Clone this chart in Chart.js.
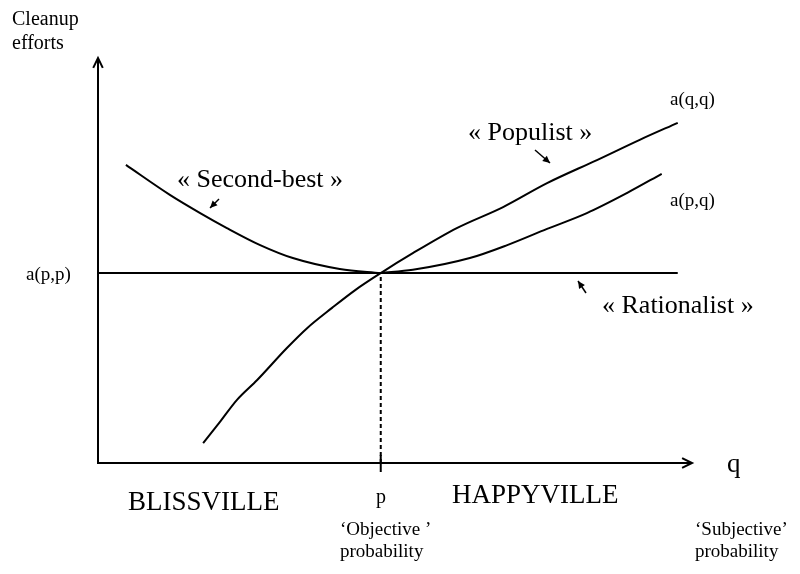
<!DOCTYPE html>
<html>
<head>
<meta charset="utf-8">
<script src="https://cdn.jsdelivr.net/npm/chart.js@4"></script>
<style>
html,body{margin:0;padding:0;background:#fff;}
#wrap{width:800px;height:574px;position:relative;}
</style>
</head>
<body>
<div id="wrap"><canvas id="c" width="800" height="574"></canvas></div>
<script>
// Schematic values (x = subjective probability q, y = cleanup efforts)
const pValue = 4.76;      // objective probability p
const appValue = 4.69;    // a(p,p)

const secondBestX = [0.47, 1.21, 1.72, 2.17, 2.73, 3.28, 4.07, 4.76];
const secondBestY = [7.36, 6.62, 6.17, 5.80, 5.38, 5.06, 4.79, 4.69];

const apqX = [4.76, 5.30, 6.26, 6.89, 7.56, 8.23, 8.91, 9.49];
const apqY = [4.69, 4.77, 5.06, 5.38, 5.78, 6.17, 6.67, 7.14];

const populistX = [1.77, 2.05, 2.34, 2.68, 3.18, 3.52, 3.94, 4.33, 4.76, 5.30, 6.04, 6.82, 7.56, 8.40, 9.12, 9.76];
const populistY = [0.49, 1.01, 1.56, 2.05, 2.84, 3.33, 3.83, 4.27, 4.69, 5.18, 5.80, 6.32, 6.91, 7.48, 7.98, 8.40];

const rationalistX = [0, 9.76];
const rationalistY = [appValue, appValue];

const zip = (xs, ys) => xs.map((x, i) => ({x: x, y: ys[i]}));

const SERIF = '"Liberation Serif", "Times New Roman", serif';

const lineDs = (label, data, extra) => Object.assign({
  label: label, data: data, showLine: true, pointRadius: 0,
  borderColor: '#000', borderWidth: 2, cubicInterpolationMode: 'monotone', fill: false, clip: false
}, extra || {});

function arrowHead(ctx, x1, y1, x2, y2, size, filled) {
  const a = Math.atan2(y2 - y1, x2 - x1);
  ctx.beginPath();
  ctx.moveTo(x2 - size * Math.cos(a - 0.45), y2 - size * Math.sin(a - 0.45));
  ctx.lineTo(x2, y2);
  ctx.lineTo(x2 - size * Math.cos(a + 0.45), y2 - size * Math.sin(a + 0.45));
  if (filled) { ctx.closePath(); ctx.fill(); } else { ctx.stroke(); }
}

const decor = {
  id: 'decor',
  afterDatasetsDraw(chart) {
    const ctx = chart.ctx;
    const xs = chart.scales.x, ys = chart.scales.y;
    const x0 = xs.getPixelForValue(0), y0 = ys.getPixelForValue(0);
    const xEnd = xs.getPixelForValue(10), yTop = ys.getPixelForValue(10);
    ctx.save();
    ctx.strokeStyle = '#000';
    ctx.fillStyle = '#000';
    ctx.lineWidth = 2;
    ctx.lineCap = 'butt';
    // axes
    ctx.beginPath();
    ctx.moveTo(x0, y0); ctx.lineTo(xEnd, y0);
    ctx.moveTo(x0, y0 + 1); ctx.lineTo(x0, yTop);
    ctx.stroke();
    arrowHead(ctx, x0, y0, xEnd, y0, 11, false);
    arrowHead(ctx, x0, y0, x0, yTop, 11, false);
    // tick at p
    const px = xs.getPixelForValue(pValue);
    ctx.beginPath();
    ctx.moveTo(px, y0 - 8); ctx.lineTo(px, y0 + 9);
    ctx.stroke();
    // small pointer arrows
    ctx.lineWidth = 1.5;
    const arrows = [[219, 199, 210, 208], [535, 150, 550, 163], [586, 293, 578, 281]];
    arrows.forEach(a => {
      ctx.beginPath(); ctx.moveTo(a[0], a[1]); ctx.lineTo(a[2], a[3]); ctx.stroke();
      arrowHead(ctx, a[0], a[1], a[2], a[3], 8, true);
    });
    // texts
    ctx.textBaseline = 'alphabetic';
    const txt = (s, x, y, size, align) => {
      ctx.font = size + 'px ' + SERIF;
      ctx.textAlign = align || 'left';
      ctx.fillText(s, x, y);
    };
    txt('Cleanup', 12, 25, 20);
    txt('efforts', 12, 49, 20);
    txt('a(p,p)', 26, 280, 19);
    txt('a(q,q)', 670, 105, 19);
    txt('a(p,q)', 670, 206, 19);
    txt('\u00AB Second-best \u00BB', 177, 187, 26);
    txt('\u00AB Populist \u00BB', 468, 140, 26);
    txt('\u00AB Rationalist \u00BB', 602, 313, 26);
    txt('q', 727, 472, 27);
    txt('BLISSVILLE', 128, 510, 27);
    txt('HAPPYVILLE', 452, 503, 27);
    txt('p', 381, 503, 20, 'center');
    txt('\u2018Objective \u2019', 340, 535, 19);
    txt('probability', 340, 557, 19);
    txt('\u2018Subjective\u2019', 695, 535, 19);
    txt('probability', 695, 557, 19);
    ctx.restore();
  }
};

new Chart(document.getElementById('c'), {
  type: 'scatter',
  data: {
    datasets: [
      lineDs('Second-best', zip(secondBestX, secondBestY)),
      lineDs('a(p,q)', zip(apqX, apqY)),
      lineDs('Populist a(q,q)', zip(populistX, populistY)),
      lineDs('Rationalist', zip(rationalistX, rationalistY), {cubicInterpolationMode: 'default', tension: 0}),
      lineDs('p', zip([pValue, pValue], [0, appValue]), {cubicInterpolationMode: 'default', tension: 0, borderDash: [4, 3], borderWidth: 2})
    ]
  },
  plugins: [decor],
  options: {
    responsive: false,
    animation: false,
    layout: {padding: {left: 98, right: 108, top: 58, bottom: 111}},
    plugins: {legend: {display: false}, tooltip: {enabled: false}},
    scales: {
      x: {type: 'linear', min: 0, max: 10, display: false},
      y: {type: 'linear', min: 0, max: 10, display: false}
    }
  }
});
</script>
</body>
</html>
